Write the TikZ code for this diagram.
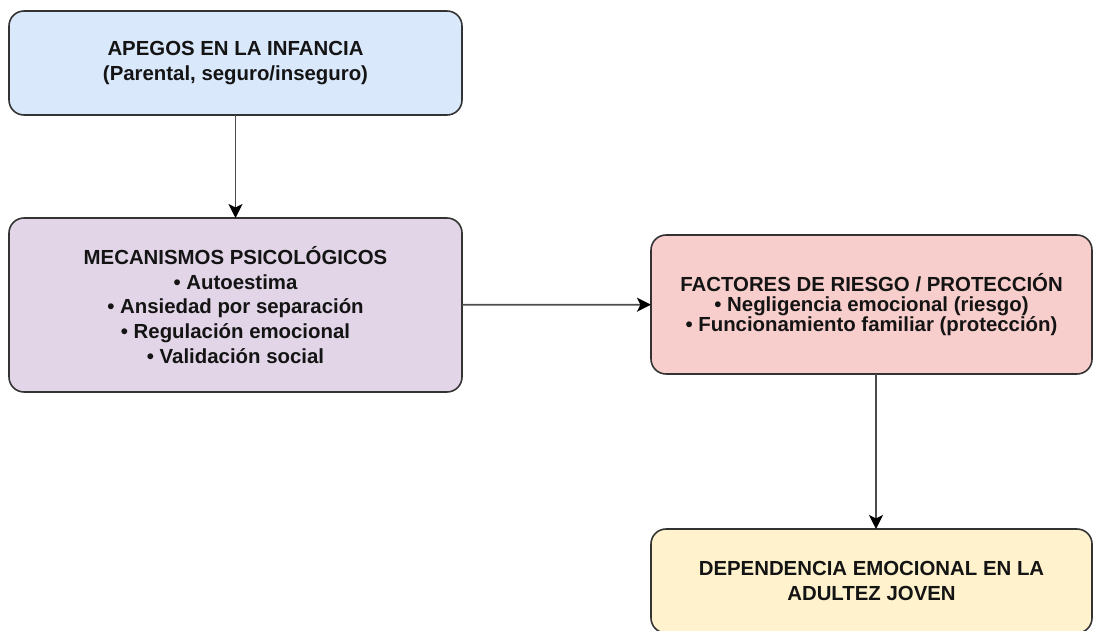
\documentclass[tikz,border=0pt]{standalone}
\usepackage{fontspec}
\setmainfont{Liberation Sans}
\usetikzlibrary{arrows.meta}

\definecolor{apegofill}{HTML}{DAE8FC}
\definecolor{mecafill}{HTML}{E1D5E7}
\definecolor{riesgofill}{HTML}{F8CECC}
\definecolor{depfill}{HTML}{FFF2CC}

\begin{document}
\begin{tikzpicture}[line width=0.9pt,
  caja/.style={draw=black!80, rounded corners=0.3cm, align=center,
    inner sep=0pt, outer sep=0pt, text=black!92,
    font=\bfseries\fontsize{11.6}{14}\selectfont},
  flecha/.style={draw=black!70, line width=1pt,
    -{Stealth[length=8pt,width=8pt,inset=2pt,color=black]}}]
  \useasboundingbox (0,0) rectangle (21.86,-12.62);
  % Cajas del modelo
  \node[caja, fill=apegofill, minimum width=9.06cm, minimum height=2.08cm]
    (apegos) at (4.71,-1.26) {APEGOS EN LA INFANCIA\\(Parental, seguro/inseguro)};
  \node[caja, fill=mecafill, minimum width=9.06cm, minimum height=3.48cm]
    (meca) at (4.71,-6.10) {MECANISMOS PSICOLÓGICOS\\• Autoestima\\• Ansiedad por separación\\• Regulación emocional\\• Validación social};
  \node[caja, fill=riesgofill, minimum width=8.82cm, minimum height=2.78cm,
    font=\bfseries\fontsize{11.6}{11.2}\selectfont]
    (riesgo) at (17.43,-6.09) {FACTORES DE RIESGO / PROTECCIÓN\\• Negligencia emocional (riesgo)\\• Funcionamiento familiar (protección)};
  \node[caja, fill=depfill, minimum width=8.82cm, minimum height=2.08cm]
    (dep) at (17.43,-11.62) {DEPENDENCIA EMOCIONAL EN LA\\ADULTEZ JOVEN};
  % Flechas
  \draw[flecha] (apegos) -- (meca);
  \draw[flecha] (meca) -- (riesgo);
  \draw[flecha] ([xshift=0.09cm]riesgo.south) -- ([xshift=0.09cm]dep.north);
\end{tikzpicture}
\end{document}
